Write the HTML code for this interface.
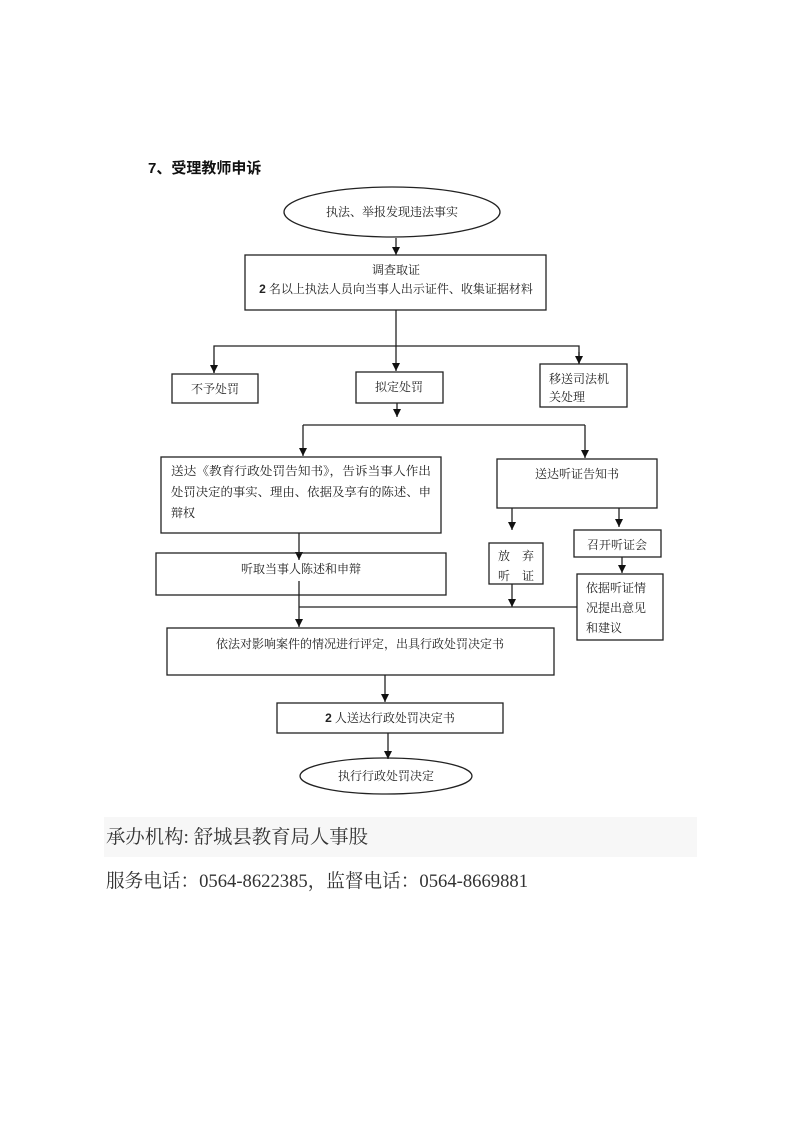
<!DOCTYPE html>
<html><head><meta charset="utf-8"><style>
body{margin:0;background:#fff;}
svg{display:block;font-family:"Liberation Serif","Noto Serif CJK SC",serif;}
.t{font-size:12px;fill:#222;}
.b{font-family:"Liberation Sans","Noto Sans CJK SC",sans-serif;font-weight:bold;}
</style></head><body>
<svg width="793" height="1122" viewBox="0 0 793 1122" xmlns="http://www.w3.org/2000/svg">
<defs><marker id="a" markerWidth="8" markerHeight="8" refX="8" refY="4" orient="auto" markerUnits="userSpaceOnUse"><path d="M0,0 L8,4 L0,8 z" fill="#111"/></marker></defs>
<text x="148" y="173" class="b" font-size="15" fill="#111">7、受理教师申诉</text>
<g stroke="#222" stroke-width="1.3" fill="none">
<ellipse cx="392" cy="212" rx="108" ry="25"/>
<line x1="396" y1="238" x2="396" y2="255" marker-end="url(#a)"/>
<rect x="245" y="255" width="301" height="55"/>
<line x1="396" y1="310" x2="396" y2="371" marker-end="url(#a)"/>
<polyline points="214,373 214,346 579,346 579,364" />
<line x1="214" y1="360" x2="214" y2="373" marker-end="url(#a)"/>
<line x1="579" y1="352" x2="579" y2="364" marker-end="url(#a)"/>
<rect x="172" y="374" width="86" height="29"/>
<rect x="356" y="372" width="87" height="31"/>
<rect x="540" y="364" width="87" height="43"/>
<line x1="397" y1="403" x2="397" y2="417" marker-end="url(#a)"/>
<line x1="303" y1="425" x2="585" y2="425"/>
<line x1="303" y1="425" x2="303" y2="456" marker-end="url(#a)"/>
<line x1="585" y1="425" x2="585" y2="458" marker-end="url(#a)"/>
<rect x="161" y="457" width="280" height="76"/>
<rect x="497" y="459" width="160" height="49"/>
<line x1="512" y1="508" x2="512" y2="530" marker-end="url(#a)"/>
<line x1="619" y1="508" x2="619" y2="527" marker-end="url(#a)"/>
<rect x="489" y="543" width="54" height="41"/>
<rect x="574" y="530" width="87" height="27"/>
<line x1="622" y1="557" x2="622" y2="573" marker-end="url(#a)"/>
<rect x="577" y="574" width="86" height="66"/>
<line x1="299" y1="533" x2="299" y2="560" marker-end="url(#a)"/>
<rect x="156" y="553" width="290" height="42"/>
<line x1="299" y1="581" x2="299" y2="627" marker-end="url(#a)"/>
<line x1="299" y1="607" x2="577" y2="607"/>
<line x1="512" y1="584" x2="512" y2="607" marker-end="url(#a)"/>
<rect x="167" y="628" width="387" height="47"/>
<line x1="385" y1="675" x2="385" y2="702" marker-end="url(#a)"/>
<rect x="277" y="703" width="226" height="30"/>
<line x1="388" y1="733" x2="388" y2="759" marker-end="url(#a)"/>
<ellipse cx="386" cy="776" rx="86" ry="18"/>
</g>
<g class="t">
<text x="392" y="216" text-anchor="middle">执法、举报发现违法事实</text>
<text x="396" y="274" text-anchor="middle">调查取证</text>
<text x="396" y="293" text-anchor="middle"><tspan class="b">2</tspan> 名以上执法人员向当事人出示证件、收集证据材料</text>
<text x="215" y="393" text-anchor="middle">不予处罚</text>
<text x="399" y="391" text-anchor="middle">拟定处罚</text>
<text x="549" y="383">移送司法机</text>
<text x="549" y="401">关处理</text>
<text x="171" y="475" textLength="260" lengthAdjust="spacingAndGlyphs">送达《教育行政处罚告知书》，告诉当事人作出</text>
<text x="171" y="496" textLength="260" lengthAdjust="spacingAndGlyphs">处罚决定的事实、理由、依据及享有的陈述、申</text>
<text x="171" y="517">辩权</text>
<text x="577" y="478" text-anchor="middle">送达听证告知书</text>
<text x="498" y="560">放　弃</text>
<text x="498" y="580">听　证</text>
<text x="617" y="549" text-anchor="middle">召开听证会</text>
<text x="586" y="592">依据听证情</text>
<text x="586" y="612">况提出意见</text>
<text x="586" y="632">和建议</text>
<text x="301" y="573" text-anchor="middle">听取当事人陈述和申辩</text>
<text x="360" y="648" text-anchor="middle">依法对影响案件的情况进行评定，出具行政处罚决定书</text>
<text x="390" y="722" text-anchor="middle"><tspan class="b">2</tspan> 人送达行政处罚决定书</text>
<text x="386" y="780" text-anchor="middle">执行行政处罚决定</text>
</g>
<rect x="104" y="817" width="593" height="40" fill="#f7f7f7"/>
<text x="106" y="843" font-size="19" fill="#333" textLength="262" lengthAdjust="spacingAndGlyphs">承办机构: 舒城县教育局人事股</text>
<text x="106" y="887" font-size="19" fill="#333" textLength="422" lengthAdjust="spacingAndGlyphs">服务电话：0564-8622385，监督电话：0564-8669881</text>
</svg>
</body></html>
